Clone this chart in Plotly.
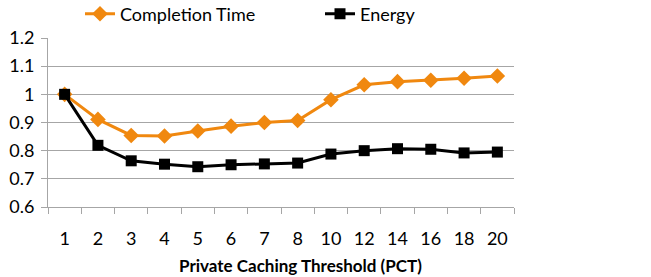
import plotly.graph_objects as go

categories = ["1", "2", "3", "4", "5", "6", "7", "8", "10", "12", "14", "16", "18", "20"]
completion_time = [1.0, 0.911, 0.854, 0.852, 0.870, 0.887, 0.900, 0.907, 0.981, 1.034, 1.045, 1.050, 1.057, 1.065]
energy = [1.0, 0.819, 0.764, 0.752, 0.743, 0.750, 0.753, 0.756, 0.788, 0.800, 0.807, 0.805, 0.792, 0.795]
y_ticks = [0.6, 0.7, 0.8, 0.9, 1.0, 1.1, 1.2]
y_labels = ["0.6", "0.7", "0.8", "0.9", "1", "1.1", "1.2"]
x_title = "Private Caching Threshold (PCT)"

FONT = "Lato"
ORANGE = "#F0880F"

# plot area in window pixels: x 48..514, y 38..207
L, T = 48, 38
R = 651 - 514
B = 277 - 207
PW = 514 - 48
PH = 207 - 38

fig = go.Figure()
fig.add_trace(go.Scatter(
    x=categories, y=completion_time, name="Completion Time", mode="lines+markers",
    line=dict(color=ORANGE, width=3),
    marker=dict(symbol="diamond", size=12, color=ORANGE),
    legend="legend",
))
fig.add_trace(go.Scatter(
    x=categories, y=energy, name="Energy", mode="lines+markers",
    line=dict(color="black", width=3),
    marker=dict(symbol="square", size=11, color="black"),
    legend="legend2",
))

leg_common = dict(orientation="h", xref="container", yref="container",
                  xanchor="left", yanchor="middle", y=1 - 14 / 277,
                  font=dict(family=FONT, size=18), bgcolor="rgba(0,0,0,0)")

fig.update_layout(
    width=651, height=277,
    margin=dict(l=L, r=R, t=T, b=B, autoexpand=False),
    plot_bgcolor="white", paper_bgcolor="white",
    font=dict(family=FONT, size=18, color="black"),
    showlegend=True,
    legend=dict(x=80 / 651, **leg_common),
    legend2=dict(x=320 / 651, **leg_common),
    xaxis=dict(
        type="category", categoryorder="array", categoryarray=categories,
        tickson="boundaries", ticks="outside", ticklen=6, tickcolor="#A6A6A6",
        showgrid=False, showline=True, linecolor="#A6A6A6", linewidth=1,
        ticklabelstandoff=15, automargin=False,
        tickfont=dict(family=FONT, size=18),
        range=[-0.5, 13.5],
    ),
    yaxis=dict(
        range=[0.6, 1.2], tickvals=y_ticks, ticktext=y_labels,
        showgrid=True, gridcolor="#A6A6A6", gridwidth=1,
        showline=True, linecolor="#A6A6A6", linewidth=1,
        ticks="outside", ticklen=6, tickcolor="#A6A6A6",
        ticklabelstandoff=3, automargin=False,
        zeroline=False, tickfont=dict(family=FONT, size=18),
    ),
    annotations=[dict(
        text="<b>" + x_title + "</b>", xref="paper", yref="paper",
        x=(300 - 48) / PW, y=-(265 - 207) / PH, xanchor="center", yanchor="middle",
        showarrow=False, font=dict(family=FONT, size=17, color="black"),
    )],
)

fig.write_html("out.html", config={"displayModeBar": False},
               post_script="document.body.style.margin='0px';")
